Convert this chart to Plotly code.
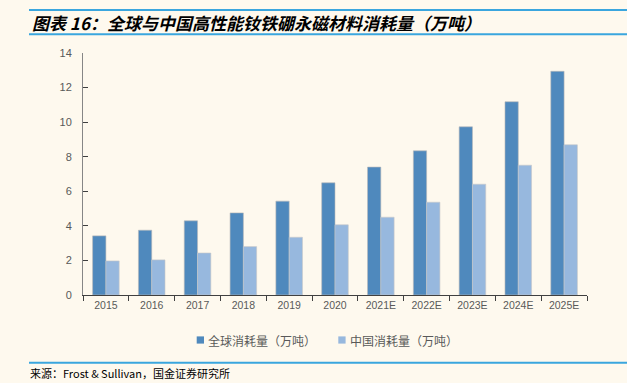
import plotly.graph_objects as go

categories = ["2015", "2016", "2017", "2018", "2019", "2020",
              "2021E", "2022E", "2023E", "2024E", "2025E"]
global_consumption = [3.42, 3.75, 4.29, 4.75, 5.43, 6.49, 7.40, 8.34, 9.73, 11.18, 12.94]
china_consumption = [1.97, 2.03, 2.43, 2.80, 3.34, 4.06, 4.50, 5.37, 6.41, 7.51, 8.69]
series_names = ["全球消耗量（万吨）", "中国消耗量（万吨）"]
y_ticks = [0, 2, 4, 6, 8, 10, 12, 14]

BG = "#FEF9EE"
C_GLOBAL = "#4F89BD"
C_CHINA = "#97B8DE"
LINE_BLUE = "#3AA6DE"
CJK = "Noto Sans CJK SC"

# plot area in pixels: x 83..587, y 53..295
L, R, T, B = 83, 587, 53, 295
W, H = R - L, B - T


def px(x):
    return (x - L) / W


def py(y):
    return (B - y) / H


fig = go.Figure()
colors = [C_GLOBAL, C_CHINA]
edges = ["#B9B9B9", "#C8C8C8"]
for name, vals, c, e in zip(series_names, [global_consumption, china_consumption], colors, edges):
    fig.add_trace(go.Bar(x=categories, y=vals, name=name,
                         marker=dict(color=c, line=dict(color=e, width=0.6))))

fig.update_layout(
    width=627, height=383,
    paper_bgcolor=BG, plot_bgcolor=BG,
    margin=dict(l=L, r=627 - R, t=T, b=383 - B, autoexpand=False),
    barmode="group", bargap=0.42, bargroupgap=0,
    font=dict(family=CJK, size=11, color="#595959"),
    showlegend=False,
    xaxis=dict(type="category", showline=True, linecolor="#404040", linewidth=1,
               ticks="outside", tickson="boundaries", ticklen=5, tickcolor="#404040",
               tickfont=dict(family="Liberation Sans, sans-serif", size=10.5, color="#595959"),
               showgrid=False, zeroline=False),
    yaxis=dict(range=[0, 14], tickvals=y_ticks, showline=True, linecolor="#868686", linewidth=1,
               ticks="inside", ticklen=5, tickcolor="#404040", ticklabelstandoff=8,
               tickfont=dict(family="Liberation Sans, sans-serif", size=11, color="#595959"),
               showgrid=False, zeroline=False),
)

# legend (drawn manually to match small square markers)
leg_marks = [(196.7, 204.0), (338.3, 345.6)]
for (x0, x1), c, name in zip(leg_marks, colors, series_names):
    fig.add_shape(type="rect", xref="paper", yref="paper", x0=px(x0), x1=px(x1),
                  y0=py(336.4), y1=py(343.6), line=dict(width=0), fillcolor=c)
    fig.add_annotation(xref="paper", yref="paper", x=px(x1 + 2.3), y=py(340), xanchor="left",
                       yanchor="middle", text=name, showarrow=False,
                       font=dict(family=CJK, size=12, color="#595959"))

for yy in (10, 34.3, 362.7):
    fig.add_shape(type="line", xref="paper", yref="paper", x0=px(29), x1=px(627), y0=py(yy), y1=py(yy),
                  line=dict(color=LINE_BLUE, width=2))

fig.add_annotation(xref="paper", yref="paper", x=px(30), y=py(22), xanchor="left", yanchor="middle",
                   text="<b><i>图表 16：全球与中国高性能钕铁硼永磁材料消耗量（万吨）</i></b>",
                   showarrow=False, font=dict(family=CJK, size=17, color="#000000"))
fig.add_annotation(xref="paper", yref="paper", x=px(28), y=py(373), xanchor="left", yanchor="middle",
                   text="来源：Frost &amp; Sullivan，国金证券研究所",
                   showarrow=False, font=dict(family=CJK, size=11, color="#000000"))

fig.write_html("out.html", config={"displayModeBar": False},
               post_script="document.body.style.margin='0';document.body.style.overflow='hidden';")
